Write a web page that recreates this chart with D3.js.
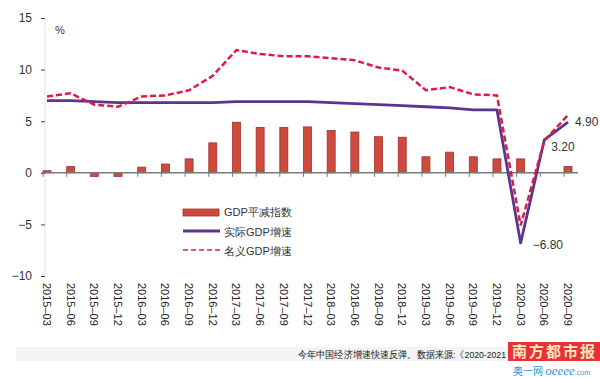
<!DOCTYPE html>
<html><head><meta charset="utf-8">
<script src="https://cdn.jsdelivr.net/npm/d3@7"></script>
<style>body{margin:0;background:#fff}svg{display:block}</style>
</head><body>
<script>
const categories = ["2015-03","2015-06","2015-09","2015-12","2016-03","2016-06","2016-09","2016-12","2017-03","2017-06","2017-09","2017-12","2018-03","2018-06","2018-09","2018-12","2019-03","2019-06","2019-09","2019-12","2020-03","2020-06","2020-09"];
const deflator = [0.2,0.6,-0.35,-0.35,0.55,0.85,1.35,2.9,4.9,4.4,4.4,4.45,4.1,3.95,3.5,3.45,1.55,2.0,1.55,1.35,1.35,0,0.6];
const realGDP = [7.0,7.0,6.9,6.8,6.8,6.8,6.8,6.8,6.9,6.9,6.9,6.9,6.8,6.7,6.6,6.5,6.4,6.3,6.1,6.1,-6.8,3.2,4.9];
const nominalGDP = [7.4,7.7,6.6,6.4,7.4,7.5,8.0,9.4,11.9,11.5,11.3,11.3,11.1,10.9,10.2,9.9,8.0,8.3,7.6,7.5,-5.1,3.1,5.6];
const yTicks = [15,10,5,0,-5,-10];
const dataLabels = [{i:22, v:"4.90"},{i:21, v:"3.20"},{i:20, v:"−6.80"}];
const legendItems = ["GDP平减指数","实际GDP增速","名义GDP增速"];
const footerText = "今年中国经济增速快速反弹。数据来源:《2020-2021";

const W=600,H=378;
const svg=d3.select("body").append("svg").attr("width",W).attr("height",H)
  .style("font-family","'Liberation Sans',Arial,sans-serif");
const x=d3.scalePoint().domain(categories).range([47,568]);
const y=d3.scaleLinear().domain([-10,15]).range([276,18]);
const fmt=v=>v<0?"−"+Math.abs(v):String(v);

// y axis
svg.append("line").attr("x1",45).attr("x2",45).attr("y1",y(15)).attr("y2",y(-10)).attr("stroke","#e2e2e2").attr("stroke-width",1);
const ya=svg.append("g").attr("transform","translate(45,0)")
  .call(d3.axisLeft(y).tickValues(yTicks).tickSize(4).tickPadding(9).tickFormat(fmt));
ya.select(".domain").remove();
ya.selectAll(".tick line").attr("stroke","#444");
ya.selectAll(".tick text").attr("font-size",12).attr("fill","#333");

svg.append("text").attr("x",55).attr("y",34).attr("font-size",11).attr("fill","#333").text("%");

// bars
const bw=8;
svg.append("g").selectAll("rect").data(deflator).join("rect")
  .attr("x",(d,i)=>x(categories[i])-bw/2)
  .attr("y",d=>y(Math.max(0,d)))
  .attr("width",bw)
  .attr("height",d=>Math.abs(y(d)-y(0)))
  .attr("fill","#cf4a3e").attr("stroke","#a3302a").attr("stroke-width",0.8);

// zero line + ticks
svg.append("line").attr("x1",45).attr("x2",578).attr("y1",y(0)).attr("y2",y(0)).attr("stroke","#7a7a7a").attr("stroke-width",1.5);
svg.append("g").selectAll("line").data(categories).join("line")
  .attr("x1",d=>x(d)-4).attr("x2",d=>x(d)-4).attr("y1",y(0)).attr("y2",y(0)+4)
  .attr("stroke","#7a7a7a").attr("stroke-width",1);

// lines
const line=d3.line().x((d,i)=>x(categories[i])).y(d=>y(d));
svg.append("path").datum(realGDP).attr("d",line).attr("fill","none")
  .attr("stroke","#5a3490").attr("stroke-width",2.8).attr("stroke-linejoin","round");
svg.append("path").datum(nominalGDP).attr("d",line).attr("fill","none")
  .attr("stroke","#e01a44").attr("stroke-width",2.5).attr("stroke-dasharray","6,3");

// data labels
const lblPos={22:[574,126],21:[550,151],20:[528,249]};
svg.append("g").selectAll("text").data(dataLabels).join("text")
  .attr("x",d=>x(categories[d.i])+ (d.i===22?7:(d.i===21?7:12)))
  .attr("y",d=>lblPos[d.i][1])
  .attr("font-size",12).attr("fill","#333").text(d=>d.v);

// x labels
svg.append("g").selectAll("text").data(categories).join("text")
  .attr("transform",d=>`translate(${x(d)-4},283) rotate(90)`)
  .attr("font-size",11).attr("fill","#222").text(d=>d.replace("-","–"));

// legend
const lg=svg.append("g");
lg.append("rect").attr("x",183).attr("y",209).attr("width",36).attr("height",7).attr("fill","#cf4a3e").attr("stroke","#a3302a").attr("stroke-width",0.8);
lg.append("line").attr("x1",183).attr("x2",220).attr("y1",231).attr("y2",231).attr("stroke","#5a3490").attr("stroke-width",3);
lg.append("line").attr("x1",183).attr("x2",220).attr("y1",250).attr("y2",250).attr("stroke","#e01a44").attr("stroke-width",1.5).attr("stroke-dasharray","5,3");
lg.selectAll("text").data(legendItems).join("text")
  .attr("x",224).attr("y",(d,i)=>216+i*19.5).attr("font-size",11).attr("fill","#333").text(d=>d);

// footer
svg.append("rect").attr("x",16).attr("y",347).attr("width",584).attr("height",14).attr("fill","#f4f4f4");
svg.append("text").attr("x",298).attr("y",358).attr("font-size",9.5).attr("fill","#222")
  .attr("textLength",208).attr("lengthAdjust","spacingAndGlyphs").text(footerText);

// watermark
svg.append("rect").attr("x",508).attr("y",342).attr("width",92).attr("height",19).attr("fill","#e8303a");
svg.append("text").attr("x",512).attr("y",357).attr("font-size",15).attr("font-weight","bold").attr("fill","#fde6b8")
  .attr("font-family","'Noto Sans CJK SC',sans-serif").attr("letter-spacing",2).text("南方都市报");
const wm=svg.append("text").attr("x",513).attr("y",375).attr("fill","#3d8fd0");
wm.append("tspan").attr("font-size",10).attr("font-family","'Noto Sans CJK SC',sans-serif").text("奥一网 ");
wm.append("tspan").attr("font-size",13).attr("font-style","italic").attr("font-family","'Liberation Serif',serif").text("oeeee");
wm.append("tspan").attr("font-size",7).text(".com");
</script>
</body></html>
